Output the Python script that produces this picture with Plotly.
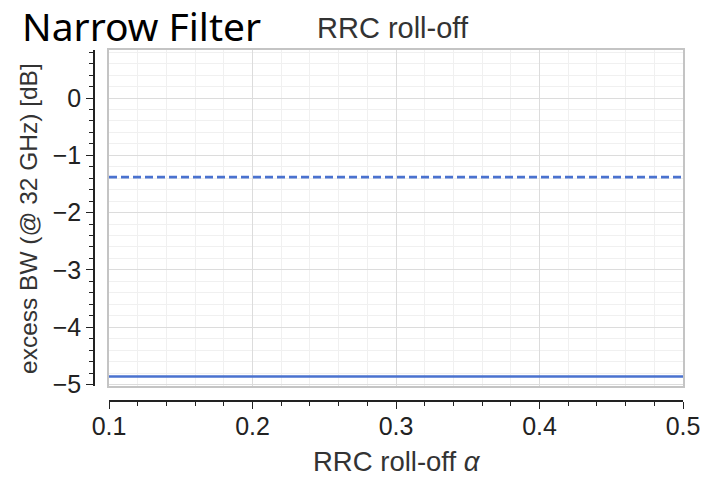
import plotly.graph_objects as go

# RRC roll-off factor and excess bandwidth at 32 GHz (dB)
alpha = [0.1, 0.2, 0.3, 0.4, 0.5]
excess_bw_dashed = [-1.38, -1.38, -1.38, -1.38, -1.38]
excess_bw_solid = [-4.86, -4.86, -4.86, -4.86, -4.86]

x_ticks = [0.1, 0.2, 0.3, 0.4, 0.5]
y_ticks = [-5, -4, -3, -2, -1, 0]

W, H = 704, 478
LINE_BLUE = "#4a72cf"
TEXT = "#222222"
FONT = "Liberation Sans, Arial, sans-serif"

# plot box in pixels
box_l, box_r, box_t, box_b = 109, 683, 50, 386
x_dom = [box_l / W, box_r / W]
y_dom = [(H - box_b) / H, (H - box_t) / H]
x_rng = [0.1, 0.5]
y_rng = [-5.026, 0.838]

fig = go.Figure()
fig.add_trace(go.Scatter(x=alpha, y=excess_bw_solid, mode="lines",
                         line=dict(color=LINE_BLUE, width=2.6),
                         xaxis="x", yaxis="y", showlegend=False))
fig.add_trace(go.Scatter(x=alpha, y=excess_bw_dashed, mode="lines",
                         line=dict(color=LINE_BLUE, width=2.6, dash="8px,4px"),
                         xaxis="x2", yaxis="y2", showlegend=False))

grid_axis = dict(showgrid=True, gridcolor="#dcdcdc", gridwidth=1,
                 showline=True, mirror=True, linecolor="#c4c4c4", linewidth=2,
                 ticks="", showticklabels=False, zeroline=False, automargin=False)

fig.update_layout(
    width=W, height=H,
    margin=dict(l=0, r=0, t=0, b=0),
    paper_bgcolor="white", plot_bgcolor="white",
    xaxis=dict(domain=x_dom, range=x_rng, tickvals=x_ticks,
               minor=dict(dtick=0.02, showgrid=True, gridcolor="#f0f0f0", gridwidth=1),
               **grid_axis),
    yaxis=dict(domain=y_dom, range=y_rng, tickvals=y_ticks,
               minor=dict(dtick=0.2, tick0=0, showgrid=True, gridcolor="#f0f0f0", gridwidth=1),
               **grid_axis),
    # detached spines with ticks and labels
    xaxis2=dict(overlaying="x", anchor="free", position=(H - 401) / H, side="bottom",
                range=x_rng, tickvals=x_ticks, ticktext=[str(v) for v in x_ticks],
                showgrid=False, zeroline=False, showline=True, linecolor=TEXT, linewidth=1.6,
                ticks="outside", ticklen=7, tickwidth=1.4, tickcolor=TEXT,
                ticklabelstandoff=-4,
                minor=dict(dtick=0.02, ticks="outside", ticklen=4, tickwidth=1.2, tickcolor=TEXT),
                tickfont=dict(family=FONT, size=25, color=TEXT), automargin=False),
    yaxis2=dict(overlaying="y", anchor="free", position=94 / W, side="left",
                range=y_rng, tickvals=y_ticks, ticktext=["\u22125", "\u22124", "\u22123", "\u22122", "\u22121", "0"],
                showgrid=False, zeroline=False, showline=True, linecolor=TEXT, linewidth=1.6,
                ticks="outside", ticklen=7, tickwidth=1.4, tickcolor=TEXT,
                minor=dict(dtick=0.2, tick0=0, ticks="outside", ticklen=4, tickwidth=1.2, tickcolor=TEXT),
                tickfont=dict(family=FONT, size=25, color=TEXT), automargin=False),
)

fig.add_annotation(text="Narrow Filter", x=20 / W, y=1 - 25 / H, xref="paper", yref="paper",
                   xanchor="left", yanchor="middle", showarrow=False,
                   font=dict(family="Noto Sans, sans-serif", size=39, color="black"))
fig.add_annotation(text="RRC roll-off", x=315 / W, y=1 - 28 / H, xref="paper", yref="paper",
                   xanchor="left", yanchor="middle", showarrow=False,
                   font=dict(family=FONT, size=29, color="#333333"))
fig.add_annotation(text="RRC roll-off <i>\u03b1</i>", x=397 / W, y=1 - 461 / H,
                   xref="paper", yref="paper", xanchor="center", yanchor="middle",
                   showarrow=False, font=dict(family=FONT, size=27.5, color="#333333"))
fig.add_annotation(text="excess BW (@ 32 GHz) [dB]", x=28 / W, y=1 - 219 / H,
                   xref="paper", yref="paper", xanchor="center", yanchor="middle",
                   textangle=-90, showarrow=False,
                   font=dict(family=FONT, size=24.5, color="#333333"))

fig.write_html("out.html")
